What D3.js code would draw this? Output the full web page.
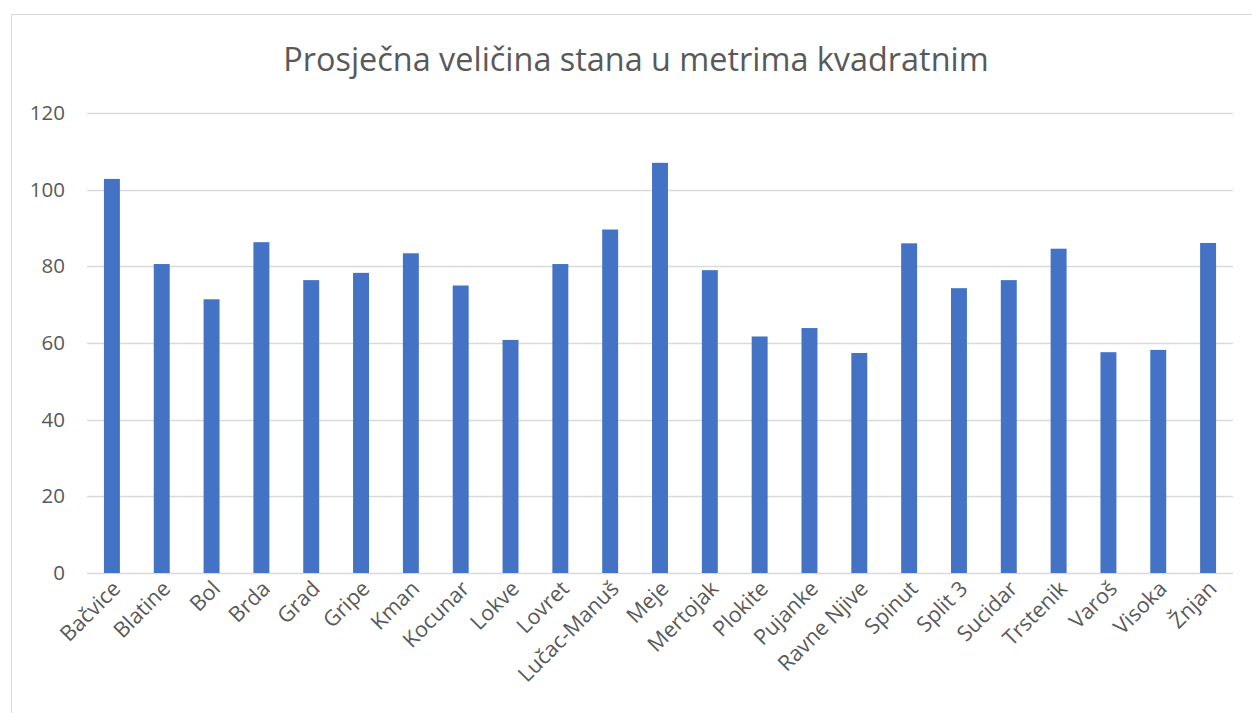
<!DOCTYPE html>
<html>
<head>
<meta charset="utf-8">
<script src="https://cdn.jsdelivr.net/npm/d3@7"></script>
<style>
  body { margin: 0; background: #fff; }
  svg { display: block; font-family: "Open Sans", "Noto Sans", sans-serif; }
</style>
</head>
<body>
<script>
// kvartovi Splita
const categories = ["Bačvice", "Blatine", "Bol", "Brda", "Grad", "Gripe", "Kman", "Kocunar",
  "Lokve", "Lovret", "Lučac-Manuš", "Meje", "Mertojak", "Plokite", "Pujanke", "Ravne Njive",
  "Spinut", "Split 3", "Sucidar", "Trstenik", "Varoš", "Visoka", "Žnjan"];
const values = [102.8, 80.6, 71.4, 86.3, 76.4, 78.3, 83.4, 75.0,
  60.8, 80.6, 89.6, 107.0, 79.0, 61.7, 63.9, 57.4,
  86.0, 74.3, 76.4, 84.6, 57.6, 58.2, 86.1];
const yTicks = [0, 20, 40, 60, 80, 100, 120];
const title = "Prosječna veličina stana u metrima kvadratnim";

const width = 1252, height = 713;
const margin = { top: 113, right: 19, bottom: 140, left: 87 };

const svg = d3.select("body").append("svg")
  .attr("width", width)
  .attr("height", height);

// okvir grafikona
svg.append("rect")
  .attr("x", 11.5).attr("y", 14.5)
  .attr("width", width).attr("height", height)
  .attr("fill", "none")
  .attr("stroke", "#d9d9d9");

const x = d3.scaleBand()
  .domain(categories)
  .range([margin.left, width - margin.right])
  .paddingInner(0.68)
  .paddingOuter(0.34);

const y = d3.scaleLinear()
  .domain([0, 120])
  .range([height - margin.bottom, margin.top]);

// mreža
svg.append("g")
  .selectAll("line")
  .data(yTicks)
  .join("line")
  .attr("x1", margin.left)
  .attr("x2", width - margin.right)
  .attr("y1", d => Math.round(y(d)) + 0.5)
  .attr("y2", d => Math.round(y(d)) + 0.5)
  .attr("stroke", "#d9d9d9")
  .attr("stroke-width", 1.5);

const yAxis = d3.axisLeft(y).tickValues(yTicks).tickSize(0).tickPadding(22);
svg.append("g")
  .attr("transform", "translate(" + margin.left + ",0)")
  .call(yAxis)
  .call(g => g.select(".domain").remove())
  .selectAll("text")
  .attr("font-size", 20.5)
  .attr("fill", "#595959")
  .attr("font-family", "Open Sans");

// stupci
svg.append("g")
  .selectAll("rect")
  .data(values)
  .join("rect")
  .attr("x", (d, i) => x(categories[i]))
  .attr("y", d => y(d))
  .attr("width", x.bandwidth())
  .attr("height", d => y(0) - y(d))
  .attr("fill", "#4472c4");

const xAxis = d3.axisBottom(x).tickSize(0).tickPadding(0);
svg.append("g")
  .attr("transform", "translate(0," + y(0) + ")")
  .call(xAxis)
  .call(g => g.select(".domain").remove())
  .selectAll("text")
  .attr("font-size", 21.5)
  .attr("fill", "#595959")
  .attr("font-family", "Open Sans")
  .attr("text-anchor", "end")
  .attr("dy", null)
  .attr("y", 0)
  .attr("transform", "translate(10,17) rotate(-45)");

svg.append("text")
  .attr("x", 636)
  .attr("y", 71)
  .attr("text-anchor", "middle")
  .attr("font-size", 32.4)
  .attr("fill", "#595959")
  .text(title);
</script>
</body>
</html>
